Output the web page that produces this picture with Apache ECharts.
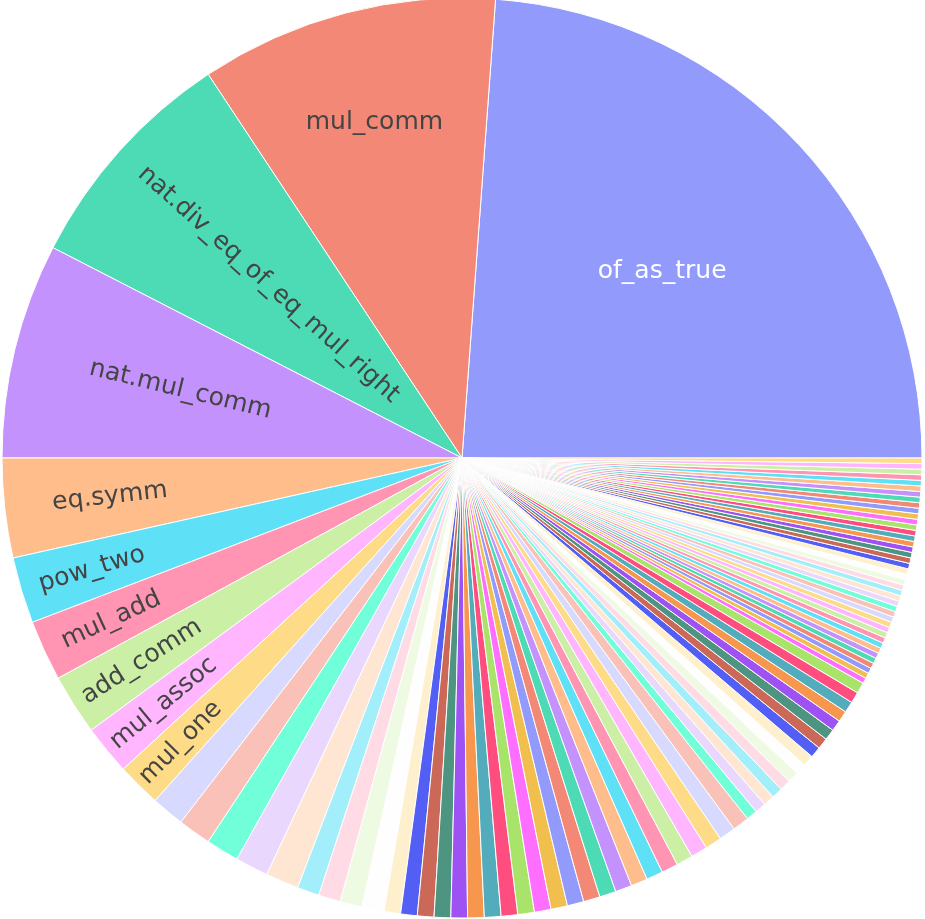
<!DOCTYPE html>
<html>
<head>
<meta charset="utf-8">
<script src="https://cdn.jsdelivr.net/npm/echarts@6/dist/echarts.min.js"></script>
<style>
  html, body { margin: 0; padding: 0; background: #fff; }
  #chart { width: 925px; height: 919px; }
</style>
</head>
<body>
<div id="chart"></div>
<script>
// lemma usage counts, sorted, 100 slices
const labelledNames = ['of_as_true', 'mul_comm', 'nat.div_eq_of_eq_mul_right', 'nat.mul_comm',
  'eq.symm', 'pow_two', 'mul_add', 'add_comm', 'mul_assoc', 'mul_one']

const counts = [
  123, 54, 42, 39, 18, 12, 11, 11, 9, 8,
  6, 6, 6, 6, 6,
  4, 4, 4, 4,
  3, 3, 3, 3, 3, 3, 3, 3, 3, 3, 3, 3, 3, 3, 3, 3, 3, 3, 3, 3, 3, 3, 3,
  2, 2, 2, 2, 2, 2, 2, 2, 2, 2, 2, 2, 2, 2, 2, 2,
  1, 1, 1, 1, 1, 1, 1, 1, 1, 1, 1, 1, 1, 1, 1, 1, 1, 1, 1, 1, 1,
  1, 1, 1, 1, 1, 1, 1, 1, 1, 1, 1, 1, 1, 1, 1, 1, 1, 1, 1, 1, 1
]

// plotly colorway
const baseColors = ['#636efa', '#EF553B', '#00cc96', '#ab63fa', '#FFA15A',
  '#19d3f3', '#FF6692', '#B6E880', '#FF97FF', '#FECB52']

// label placement (fraction of radius) and whether text stays horizontal
const labelRadius = [0.594, 0.753, 0.565, 0.63, 0.77, 0.84, 0.84, 0.825, 0.84, 0.87]
const labelFlat = [true, true, false, false, false, false, false, false, false, false]

const CX = 462, CY = 458, R = 460

function hexToRgb(h) {
  h = h.replace('#', '')
  return [0, 2, 4].map(i => parseInt(h.substr(i, 2), 16))
}
function rgbToHex(c) {
  return '#' + c.map(v => Math.round(Math.max(0, Math.min(255, v))).toString(16).padStart(2, '0')).join('')
}
function rgbToHsl([r, g, b]) {
  r /= 255; g /= 255; b /= 255
  const max = Math.max(r, g, b), min = Math.min(r, g, b)
  let h = 0, s = 0
  const l = (max + min) / 2
  if (max !== min) {
    const d = max - min
    s = l > 0.5 ? d / (2 - max - min) : d / (max + min)
    if (max === r) h = (g - b) / d + (g < b ? 6 : 0)
    else if (max === g) h = (b - r) / d + 2
    else h = (r - g) / d + 4
    h /= 6
  }
  return [h, s, l]
}
function hslToRgb([h, s, l]) {
  if (s === 0) return [l * 255, l * 255, l * 255]
  const hue2rgb = (p, q, t) => {
    if (t < 0) t += 1
    if (t > 1) t -= 1
    if (t < 1 / 6) return p + (q - p) * 6 * t
    if (t < 1 / 2) return q
    if (t < 2 / 3) return p + (q - p) * (2 / 3 - t) * 6
    return p
  }
  const q = l < 0.5 ? l * (1 + s) : l + s - l * s
  const p = 2 * l - q
  return [hue2rgb(p, q, h + 1 / 3) * 255, hue2rgb(p, q, h) * 255, hue2rgb(p, q, h - 1 / 3) * 255]
}
function shiftLight(hex, amt) {
  const hsl = rgbToHsl(hexToRgb(hex))
  hsl[2] = Math.max(0, Math.min(1, hsl[2] + amt))
  return rgbToHex(hslToRgb(hsl))
}
// extended pie colours: base, lighter, darker
const pieColors = baseColors
  .concat(baseColors.map(c => shiftLight(c, 0.2)))
  .concat(baseColors.map(c => shiftLight(c, -0.2)))

// slices are drawn at 0.7 opacity on white
function fade(hex) {
  return rgbToHex(hexToRgb(hex).map(v => v * 0.7 + 255 * 0.3))
}
function isLight(hex) {
  const [r, g, b] = hexToRgb(hex)
  return (r * 299 + g * 587 + b * 114) / 1000 >= 128
}

const total = counts.reduce((a, b) => a + b, 0)
const midAngles = []
let acc = 0
counts.forEach(v => {
  midAngles.push((acc + v / 2) / total * 360)
  acc += v
})

const seriesData = counts.map((v, i) => {
  const col = pieColors[i % pieColors.length]
  const item = {
    name: i < labelledNames.length ? labelledNames[i] : 'lemma ' + (i + 1),
    value: v,
    itemStyle: { color: fade(col) }
  }
  if (i < labelledNames.length) {
    item.label = { show: true, color: isLight(col) ? '#444' : '#fff' }
  }
  return item
})

const chart = echarts.init(document.getElementById('chart'))
chart.setOption({
  animation: false,
  backgroundColor: '#fff',
  series: [{
    type: 'pie',
    center: [CX, CY],
    radius: [0, R],
    startAngle: 0,
    clockwise: false,
    avoidLabelOverlap: false,
    minAngle: 0,
    itemStyle: { borderColor: '#fff', borderWidth: 1 },
    label: {
      show: false,
      position: 'inside',
      fontFamily: 'DejaVu Sans',
      fontSize: 25,
      color: '#444'
    },
    labelLine: { show: false },
    emphasis: { disabled: true },
    labelLayout: function (p) {
      const i = p.dataIndex
      if (i >= labelledNames.length) return {}
      const a = midAngles[i] * Math.PI / 180
      const r = R * labelRadius[i]
      return {
        x: CX + r * Math.cos(a),
        y: CY - r * Math.sin(a),
        rotate: labelFlat[i] ? 0 : midAngles[i] - 180,
        align: 'center',
        verticalAlign: 'middle'
      }
    },
    data: seriesData
  }]
})
</script>
</body>
</html>
